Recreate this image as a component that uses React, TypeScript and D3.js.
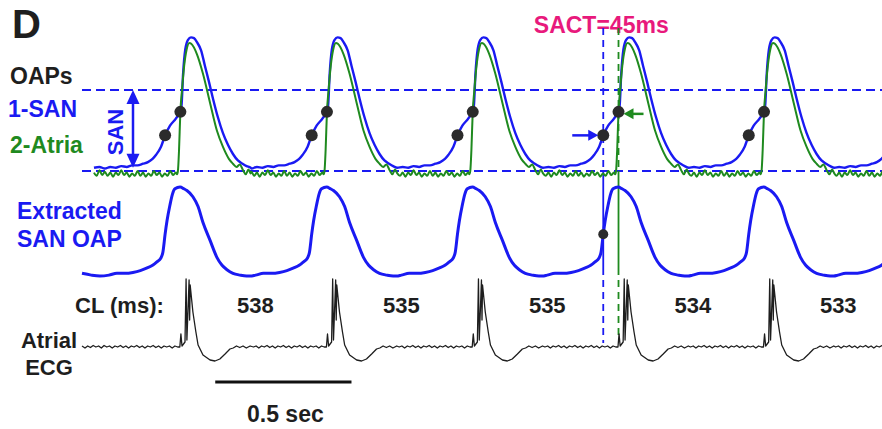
import React from 'react';
import * as d3 from 'd3';

// cycle lengths (ms) between successive beats, as labelled in the figure
const cycleLengths = [538, 535, 535, 534, 533];
const clLabels = ['538', '535', '535', '534', '533'];
// beat times (ms) = atrial ECG spike of each beat
const beatTimes = [0, ...Array.from(d3.cumsum(cycleLengths))];

// one beat of each trace: [ms from ECG spike, value]
// OAP values are normalised so the two dashed lines sit at 0 and 1
const sanOap: [number, number][] = [
  [-345, 0.04], [-325, 0.05], [-305, 0.03], [-285, 0.05], [-265, 0.04], [-245, 0.06],
  [-225, 0.05], [-205, 0.07], [-185, 0.07], [-165, 0.09], [-147, 0.11], [-130, 0.15],
  [-117, 0.2], [-99, 0.3], [-84, 0.44], [-66, 0.56], [-44, 0.65], [-30, 0.73],
  [-24, 0.8], [-18, 1.2], [-10, 1.5], [0, 1.62], [11, 1.65], [22, 1.64], [33, 1.59],
  [48, 1.49], [62, 1.3], [77, 1.1], [92, 0.89], [110, 0.66], [128, 0.47], [147, 0.32],
  [165, 0.21], [183, 0.13], [200, 0.09], [215, 0.06], [230, 0.04],
];

const atriaOap: [number, number][] = [
  [-345, -0.02], [-335, -0.06], [-325, 0.01], [-315, -0.05], [-305, -0.01], [-295, -0.06],
  [-285, -0.02], [-275, -0.07], [-265, -0.02], [-255, -0.05], [-245, 0.01], [-235, -0.05],
  [-225, -0.02], [-215, -0.07], [-205, -0.03], [-195, -0.06], [-185, 0.0], [-175, -0.06],
  [-165, -0.02], [-155, -0.07], [-145, -0.03], [-135, -0.06], [-125, 0.0], [-115, -0.05],
  [-105, -0.02], [-95, -0.07], [-85, -0.03], [-75, -0.06], [-65, 0.0], [-55, -0.05],
  [-45, -0.02], [-40, -0.04], [-37, 0.0], [-33, 0.25], [-28, 0.73], [-22, 1.0],
  [-14, 1.3], [-5, 1.5], [5, 1.58], [12, 1.57], [33, 1.44], [55, 1.2], [81, 0.84],
  [106, 0.5], [128, 0.3], [150, 0.15], [165, 0.09], [178, 0.05], [190, 0.08],
  [202, 0.01], [212, -0.04], [222, 0.02], [230, -0.03],
];

// extracted SAN OAP, 0 = diastolic minimum, 1 = peak
const extractedOap: [number, number][] = [
  [-389, 0.03], [-355, 0.01], [-323, 0.0], [-290, 0.01], [-261, 0.03], [-230, 0.03],
  [-202, 0.04], [-175, 0.06], [-150, 0.09], [-130, 0.12], [-114, 0.16], [-100, 0.2],
  [-92, 0.27], [-84, 0.47], [-77, 0.62], [-66, 0.8], [-57, 0.92], [-48, 0.98],
  [-29, 1.0], [-15, 0.98], [-4, 0.96], [18, 0.89], [37, 0.78], [55, 0.6], [81, 0.4],
  [106, 0.21], [125, 0.12], [143, 0.07], [165, 0.03], [191, 0.01], [215, 0.0], [228, 0.0],
];

// atrial ECG (arbitrary units, baseline 0)
const atrialEcg: [number, number][] = [
  [-389, 0.1], [-378, -0.1], [-368, 0.1], [-358, -0.05], [-348, 0.15], [-338, 0.0],
  [-328, 0.1], [-318, -0.1], [-308, 0.15], [-298, 0.0], [-288, 0.1], [-278, -0.1],
  [-268, 0.1], [-258, 0.0], [-248, 0.15], [-238, -0.05], [-228, 0.1], [-218, -0.1],
  [-208, 0.1], [-198, 0.0], [-188, 0.15], [-178, -0.05], [-168, 0.1], [-158, -0.1],
  [-148, 0.1], [-138, 0.0], [-128, 0.15], [-118, -0.05], [-108, 0.1], [-98, -0.1],
  [-88, 0.1], [-78, 0.0], [-68, 0.1], [-58, -0.1], [-48, 0.1], [-38, 0.0], [-30, 0.0],
  [-26, 1.3], [-22, 0.1], [-11, 0.5], [-7, 6.8], [-4, 0.7], [4, 6.7], [6, 2.7],
  [8, 6.2], [18, 3.5], [29, 1.5], [37, 0.2], [55, -0.8], [81, -1.3], [99, -1.4],
  [117, -1.2], [136, -0.7], [154, -0.2], [166, -0.1], [178, 0.1], [190, -0.05],
  [202, 0.1], [214, -0.1], [228, 0.1],
];

const sanDotOffset = -84; // SAN activation, ms before ECG spike
const atriaDotOffset = -28; // atrial activation
const sactBeat = 3;
const scaleBarMs = [100, 600];

const TEMPLATE_END = 230;
function buildTrace(tpl: [number, number][]) {
  const out: [number, number][] = [];
  beatTimes.forEach((bt, i) => {
    const from = i === 0 ? -Infinity : TEMPLATE_END - cycleLengths[i - 1];
    tpl.forEach(([o, v]) => {
      if (o > from) out.push([bt + o, v]);
    });
  });
  return out;
}

function valueAt(trace: [number, number][], t: number) {
  const i = d3.bisector((d: [number, number]) => d[0]).left(trace, t);
  const [t0, v0] = trace[Math.max(i - 1, 0)];
  const [t1, v1] = trace[Math.min(i, trace.length - 1)];
  if (t1 === t0) return v0;
  return v0 + ((v1 - v0) * (t - t0)) / (t1 - t0);
}

const BLUE = '#1a1af2';
const GREEN = '#1f8a1f';
const DOT = '#2b2b2b';
const INK = '#1e1e1e';
const PINK = '#e8197c';

export default function App() {
  const width = 882;
  const height = 429;

  const x = d3.scaleLinear().domain([-389, 2547]).range([82, 882]);
  const yTop = d3.scaleLinear().domain([0, 1]).range([171, 90]);
  const yExt = d3.scaleLinear().domain([0, 1]).range([276, 187]);
  const yEcg = d3.scaleLinear().domain([0, 1]).range([347, 337]);

  const san = buildTrace(sanOap);
  const atria = buildTrace(atriaOap);
  const ext = buildTrace(extractedOap);
  const ecg = buildTrace(atrialEcg);

  const lineTop = d3.line<[number, number]>().x(d => x(d[0])).y(d => yTop(d[1])).curve(d3.curveMonotoneX);
  const lineExt = d3.line<[number, number]>().x(d => x(d[0])).y(d => yExt(d[1])).curve(d3.curveMonotoneX);
  const lineEcg = d3.line<[number, number]>().x(d => x(d[0])).y(d => yEcg(d[1]));

  const shownBeats = beatTimes.slice(0, cycleLengths.length);
  const sanDots = shownBeats.map(bt => {
    const t = bt + sanDotOffset;
    return { cx: x(t), cy: yTop(valueAt(san, t)) };
  });
  const atriaDots = shownBeats.map(bt => {
    const t = bt + atriaDotOffset;
    return { cx: x(t), cy: yTop(valueAt(atria, t)) };
  });

  const sactT = beatTimes[sactBeat] + sanDotOffset;
  const actT = beatTimes[sactBeat] + atriaDotOffset;
  const sx = x(sactT);
  const gx = x(actT);
  const extDot = { cx: sx, cy: yExt(valueAt(ext, sactT)) };
  const sd = sanDots[sactBeat];
  const ad = atriaDots[sactBeat];

  const font = '"Liberation Sans", Arial, Helvetica, sans-serif';
  const dash = '7,5';

  const sanArrowX = 133;
  const sanTopTip = yTop(1);
  const sanBotTip = yTop(0.04);

  const bar0 = x(scaleBarMs[0]);
  const bar1 = x(scaleBarMs[1]);

  return (
    <div style={{ position: 'absolute', left: 0, top: 0 }}>
      <svg width={width} height={height} style={{ display: 'block', background: '#fff' }} fontFamily={font} fontWeight="bold">
        <text x={12} y={38} fontSize={40} fill={INK}>D</text>

        {/* left labels */}
        <text x={10} y={84} fontSize={23} fill={INK}>OAPs</text>
        <text x={8} y={117} fontSize={23} fill={BLUE}>1-SAN</text>
        <text x={10} y={153} fontSize={23} fill={GREEN}>2-Atria</text>
        <text x={17} y={219} fontSize={23} fill={BLUE}>Extracted</text>
        <text x={17} y={247} fontSize={23} fill={BLUE}>SAN OAP</text>
        <text x={49} y={348} fontSize={22} fill={INK} textAnchor="middle">Atrial</text>
        <text x={49} y={375} fontSize={22} fill={INK} textAnchor="middle">ECG</text>
        <text x={75} y={313} fontSize={22} fill={INK}>CL (ms):</text>

        {/* SAN amplitude arrow */}
        <line x1={sanArrowX} x2={sanArrowX} y1={sanTopTip + 10} y2={sanBotTip - 10} stroke={BLUE} strokeWidth={2.5} />
        <polygon points={`${sanArrowX},${sanTopTip} ${sanArrowX - 6.5},${sanTopTip + 14} ${sanArrowX + 6.5},${sanTopTip + 14}`} fill={BLUE} />
        <polygon points={`${sanArrowX},${sanBotTip} ${sanArrowX - 6.5},${sanBotTip - 14} ${sanArrowX + 6.5},${sanBotTip - 14}`} fill={BLUE} />
        <text transform={`translate(123,132) rotate(-90)`} fontSize={22} fill={BLUE} textAnchor="middle">SAN</text>

        {/* dashed reference levels */}
        <line x1={82} x2={width} y1={yTop(1)} y2={yTop(1)} stroke={BLUE} strokeWidth={2} strokeDasharray="9,5" />
        <line x1={82} x2={width} y1={yTop(0)} y2={yTop(0)} stroke={BLUE} strokeWidth={2} strokeDasharray="9,5" />

        {/* SACT markers */}
        <text x={sx - 2} y={33} fontSize={23} fill={PINK} textAnchor="middle">SACT=45ms</text>
        <line x1={sx} x2={sx} y1={28} y2={yTop(0)} stroke={BLUE} strokeWidth={1.8} strokeDasharray={dash} />
        <line x1={sx} x2={sx} y1={yTop(0)} y2={268} stroke={BLUE} strokeWidth={1.8} />
        <line x1={sx} x2={sx} y1={268} y2={343} stroke={BLUE} strokeWidth={1.8} strokeDasharray={dash} />
        <line x1={gx} x2={gx} y1={28} y2={yTop(0)} stroke={GREEN} strokeWidth={1.8} strokeDasharray={dash} />
        <line x1={gx} x2={gx} y1={yTop(0)} y2={268} stroke={GREEN} strokeWidth={1.8} />
        <line x1={gx} x2={gx} y1={268} y2={336} stroke={GREEN} strokeWidth={1.8} strokeDasharray={dash} />

        {/* traces */}
        <path d={lineTop(san) || ''} fill="none" stroke={BLUE} strokeWidth={2.4} strokeLinejoin="round" />
        <path d={lineTop(atria) || ''} fill="none" stroke={GREEN} strokeWidth={2} strokeLinejoin="round" />
        <path d={lineExt(ext) || ''} fill="none" stroke={BLUE} strokeWidth={3} strokeLinejoin="round" />
        <path d={lineEcg(ecg) || ''} fill="none" stroke={INK} strokeWidth={1.3} strokeLinejoin="round" />

        {/* activation dots */}
        {sanDots.map((d, i) => <circle key={`s${i}`} cx={d.cx} cy={d.cy} r={6} fill={DOT} />)}
        {atriaDots.map((d, i) => <circle key={`a${i}`} cx={d.cx} cy={d.cy} r={6} fill={DOT} />)}
        <circle cx={extDot.cx} cy={extDot.cy} r={5} fill={DOT} />

        {/* activation arrows */}
        <line x1={sd.cx - 31} x2={sd.cx - 12} y1={sd.cy} y2={sd.cy} stroke={BLUE} strokeWidth={2.5} />
        <polygon points={`${sd.cx - 5},${sd.cy} ${sd.cx - 15},${sd.cy - 5.5} ${sd.cx - 15},${sd.cy + 5.5}`} fill={BLUE} />
        <line x1={ad.cx + 25} x2={ad.cx + 12} y1={ad.cy + 2} y2={ad.cy + 2} stroke={GREEN} strokeWidth={2.5} />
        <polygon points={`${ad.cx + 5},${ad.cy + 2} ${ad.cx + 15},${ad.cy - 3.5} ${ad.cx + 15},${ad.cy + 7.5}`} fill={GREEN} />

        {/* cycle lengths */}
        {cycleLengths.map((cl, i) => (
          <text key={`cl${i}`} x={x(beatTimes[i] + cl / 2) - 6} y={313} fontSize={22} fill={INK} textAnchor="middle">
            {clLabels[i]}
          </text>
        ))}

        {/* scale bar */}
        <line x1={bar0} x2={bar1} y1={382} y2={382} stroke="#111" strokeWidth={3} />
        <text x={(bar0 + bar1) / 2 + 2} y={422} fontSize={23} fill={INK} textAnchor="middle">0.5 sec</text>
      </svg>
    </div>
  );
}
